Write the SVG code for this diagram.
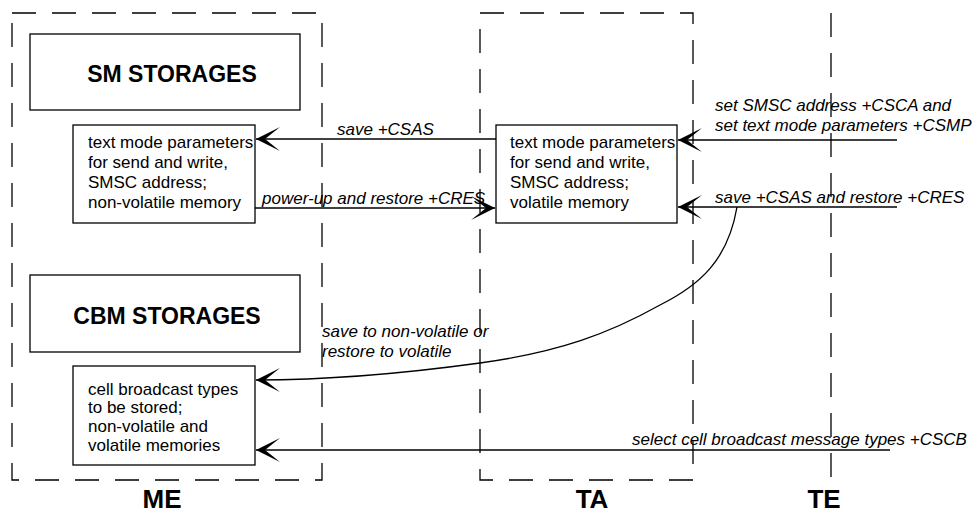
<svg xmlns="http://www.w3.org/2000/svg" width="975" height="516" viewBox="0 0 975 516">
<style>
.bg{fill:#fff}
.dash{fill:none;stroke:#000;stroke-width:1.3;stroke-dasharray:24 16}
.box{fill:#fff;stroke:#000;stroke-width:1.3}
.t{font-family:"Liberation Sans",Arial,sans-serif;font-size:17px;fill:#000}
.i{font-family:"Liberation Sans",Arial,sans-serif;font-size:17px;font-style:italic;fill:#000}
.h{font-family:"Liberation Sans",Arial,sans-serif;font-size:23px;font-weight:bold;fill:#000;text-anchor:middle}
.big{font-family:"Liberation Sans",Arial,sans-serif;font-size:26px;font-weight:bold;fill:#000;text-anchor:middle}
.c{fill:none;stroke:#000;stroke-width:1.3;marker-end:url(#ah)}
</style>
<defs>
<marker id="ah" markerUnits="userSpaceOnUse" markerWidth="30" markerHeight="30" refX="0" refY="0" orient="auto" overflow="visible">
<path d="M0,0 L-24,-12 L-9,0 L-24,12 Z" fill="#000"/>
</marker>
</defs>
<rect class="bg" x="0" y="0" width="975" height="516"/>
<g id="ME">
<rect class="dash" x="12" y="13" width="310" height="467"/>
<text class="big" x="162" y="508">ME</text>
</g>
<g id="TA">
<rect class="dash" x="480" y="13" width="213" height="467"/>
<text class="big" x="592" y="508">TA</text>
</g>
<g id="TE">
<line class="dash" x1="831" y1="13" x2="831" y2="478"/>
<text class="big" x="824" y="508">TE</text>
</g>
<g id="sm-storages">
<rect class="box" x="30" y="34" width="270" height="76"/>
<text class="h" x="172" y="82">SM STORAGES</text>
</g>
<g id="cbm-storages">
<rect class="box" x="30" y="275" width="270" height="77"/>
<text class="h" x="167" y="324">CBM STORAGES</text>
</g>
<g id="me-params">
<rect class="box" x="73" y="125" width="182" height="98"/>
<text class="t" x="88" y="148">text mode parameters</text>
<text class="t" x="88" y="168">for send and write,</text>
<text class="t" x="88" y="188">SMSC address;</text>
<text class="t" x="88" y="208">non-volatile memory</text>
</g>
<g id="ta-params">
<rect class="box" x="496" y="125" width="181" height="98"/>
<text class="t" x="510" y="148">text mode parameters</text>
<text class="t" x="510" y="168">for send and write,</text>
<text class="t" x="510" y="188">SMSC address;</text>
<text class="t" x="510" y="208">volatile memory</text>
</g>
<g id="cbm-types">
<rect class="box" x="73" y="366" width="182" height="99"/>
<text class="t" x="88" y="395">cell broadcast types</text>
<text class="t" x="88" y="413">to be stored;</text>
<text class="t" x="88" y="432">non-volatile and</text>
<text class="t" x="88" y="451">volatile memories</text>
</g>
<g id="connectors">
<line class="c" x1="496" y1="139" x2="256" y2="139"/>
<text class="i" x="337" y="135">save +CSAS</text>
<line class="c" x1="255" y1="208" x2="495" y2="208"/>
<text class="i" x="262" y="204">power-up and restore +CRES</text>
<line class="c" x1="897" y1="140" x2="678" y2="140"/>
<text class="i" x="715" y="111">set SMSC address +CSCA and</text>
<text class="i" x="715" y="131">set text mode parameters +CSMP</text>
<line class="c" x1="897" y1="207" x2="678" y2="207"/>
<text class="i" x="715" y="203">save +CSAS and restore +CRES</text>
<path class="c" d="M737,207 C728,260 700,285 660,305 C610,333 560,352 480,363 C400,374 320,380 256,380"/>
<text class="i" x="322" y="337">save to non-volatile or</text>
<text class="i" x="322" y="357">restore to volatile</text>
<line class="c" x1="890" y1="450" x2="256" y2="450"/>
<text class="i" x="632" y="445">select cell broadcast message types +CSCB</text>
</g>
</svg>
